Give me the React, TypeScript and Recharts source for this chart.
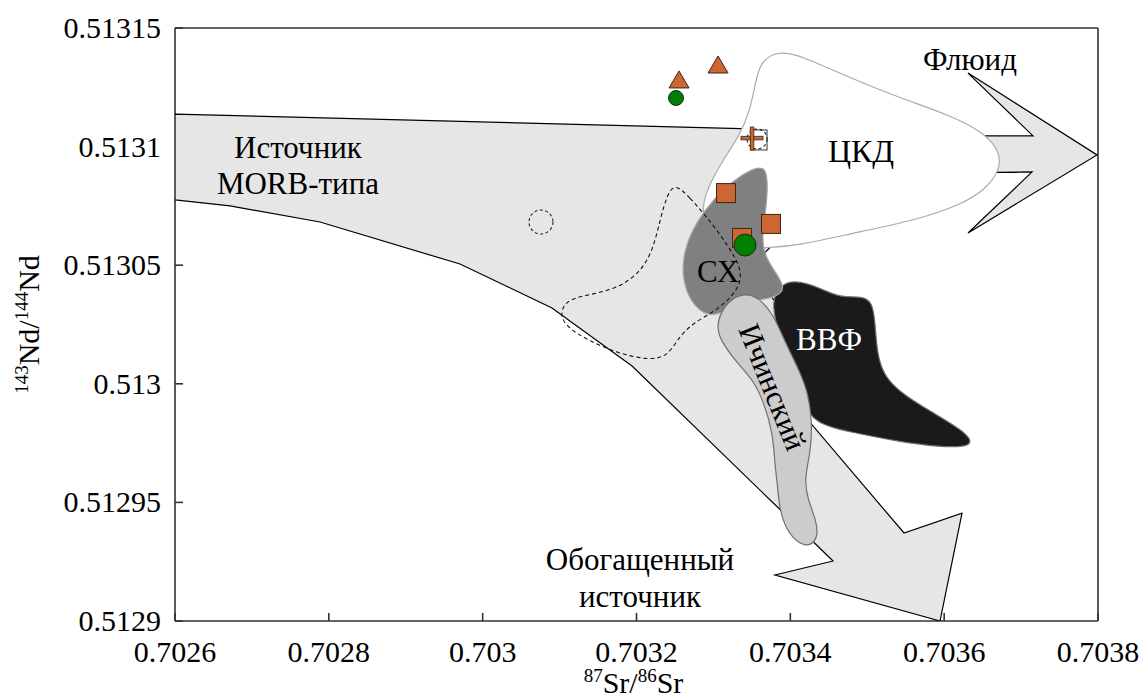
import { ScatterChart, Scatter, XAxis, YAxis, Label } from 'recharts'

const FONT = 'Liberation Serif'

// axes
const xTicks = [0.7026, 0.7028, 0.703, 0.7032, 0.7034, 0.7036, 0.7038]
const yTicks = [0.5129, 0.51295, 0.513, 0.51305, 0.5131, 0.51315]
const topTicks = [0, 1, 2, 3, 4, 5, 6, 7, 8, 9, 10, 11]
const rightTicks = [0, 1, 2, 3, 4]

// fields, [87Sr/86Sr, 143Nd/144Nd]
const morbField = [
  [0.7026, 0.5131137], [0.7033606, 0.5131074], [0.7033996, 0.5130775], [0.7033866, 0.5130615],
  [0.7033541, 0.5130513], [0.7033736, 0.5130374], [0.7033996, 0.5130269], [0.703423, 0.5129847],
  [0.7035478, 0.5129371], [0.7036232, 0.5129455], [0.7035946, 0.5129], [0.7033801, 0.5129194],
  [0.7034555, 0.5129253], [0.7031942, 0.5130075], [0.7030901, 0.513032], [0.7029705, 0.5130505],
  [0.7027885, 0.5130682], [0.7026715, 0.513075], [0.7026, 0.5130775],
]

const fluidArrow = [
  [0.703631, 0.513131], [0.7037987, 0.5130965], [0.703631, 0.5130636], [0.7037142, 0.5130893],
  [0.7036076, 0.5130889], [0.7036076, 0.5131045], [0.7037155, 0.5131045],
]

const ckdField = [
  [0.7033827, 0.5131403], [0.7034126, 0.5131386], [0.7034776, 0.5131289], [0.7035426, 0.5131205],
  [0.7036076, 0.5131133], [0.7036531, 0.5131057], [0.7036726, 0.5130977], [0.7036726, 0.5130901],
  [0.7036531, 0.5130817], [0.7036206, 0.5130754], [0.7035647, 0.5130691], [0.7034776, 0.5130632],
  [0.7034126, 0.5130585], [0.7033736, 0.5130573], [0.7033411, 0.5130573], [0.7033086, 0.5130606],
  [0.7032891, 0.513067], [0.7032852, 0.5130745], [0.703293, 0.513083], [0.7033125, 0.5130944],
  [0.7033346, 0.5131049], [0.7033476, 0.5131154], [0.7033541, 0.513126], [0.7033606, 0.5131357],
]

const vvfField = [
  [0.7033905, 0.5130429], [0.7034126, 0.5130433], [0.7034386, 0.5130404], [0.7034646, 0.5130362],
  [0.7034932, 0.513037], [0.7035062, 0.5130345], [0.7035101, 0.5130269], [0.7035127, 0.5130121],
  [0.7035231, 0.5130024], [0.7035491, 0.5129949], [0.7035881, 0.5129873], [0.7036232, 0.5129805],
  [0.7036375, 0.5129755], [0.7036271, 0.5129734], [0.7035946, 0.5129734], [0.7035426, 0.5129755],
  [0.7034776, 0.5129797], [0.7034321, 0.5129831], [0.7034126, 0.5129932], [0.7033866, 0.5130185],
  [0.7033736, 0.5130353],
]

const shField = [
  [0.7033671, 0.5130914], [0.703371, 0.5130851], [0.7033684, 0.5130733], [0.7033632, 0.5130627],
  [0.7033658, 0.5130543], [0.7033814, 0.5130467], [0.7033944, 0.51304], [0.7033801, 0.5130362],
  [0.7033541, 0.5130353], [0.7033281, 0.5130332], [0.7033021, 0.5130282], [0.7032826, 0.5130303],
  [0.703267, 0.5130366], [0.7032592, 0.5130459], [0.7032618, 0.5130556], [0.7032722, 0.5130648],
  [0.7032891, 0.5130733], [0.7033112, 0.5130817], [0.7033346, 0.5130876], [0.7033541, 0.513091],
]

const ichinskyField = [
  [0.7033437, 0.5130383], [0.7033632, 0.5130353], [0.7033801, 0.5130277], [0.7033931, 0.5130176],
  [0.7034126, 0.513005], [0.703423, 0.5129961], [0.7034282, 0.5129847], [0.7034269, 0.5129721],
  [0.7034178, 0.5129594], [0.703423, 0.512951], [0.7034334, 0.5129426], [0.703436, 0.5129363],
  [0.7034295, 0.5129325], [0.7034191, 0.5129316], [0.7034048, 0.5129342], [0.7033918, 0.5129405],
  [0.7033853, 0.5129489], [0.7033827, 0.5129594], [0.7033801, 0.5129649], [0.7033775, 0.5129793],
  [0.7033645, 0.5129932], [0.7033515, 0.5130016], [0.7033307, 0.5130088], [0.7033086, 0.5130185],
  [0.7033047, 0.5130239], [0.7033086, 0.5130299], [0.7033242, 0.5130362],
]

const dashedField = [
  [0.7032501, 0.5130847], [0.7032696, 0.5130783], [0.7032891, 0.5130712], [0.7033112, 0.5130619],
  [0.7033281, 0.5130535], [0.7033372, 0.5130467], [0.703332, 0.5130395], [0.703306, 0.5130311],
  [0.7032722, 0.5130256], [0.7032527, 0.5130185], [0.7032397, 0.5130113], [0.7032137, 0.51301],
  [0.7031747, 0.513013], [0.7031357, 0.5130185], [0.7031096, 0.5130239], [0.7031005, 0.513029],
  [0.703107, 0.5130345], [0.7031265, 0.513037], [0.7031721, 0.5130395], [0.7032046, 0.5130467],
  [0.7032215, 0.5130564], [0.7032306, 0.5130691], [0.7032397, 0.5130796],
]

const dashedCircle = [[0.7030758, 0.5130682]]

// samples
const triangles = [[0.7032553, 0.5131281], [0.703306, 0.5131344]]
const smallCircles = [[0.7032514, 0.5131205]]
const bigCircles = [[0.7033411, 0.5130585]]
const squares = [[0.7033164, 0.5130804], [0.7033749, 0.5130674], [0.7033372, 0.5130615]]
const openSquares = [[0.7033593, 0.5131028]]
const openDashedCircles = [[0.7033567, 0.5131032]]
const crosses = [[0.7033502, 0.5131036]]

// annotations
const labelMorb = [[0.7027599, 0.5130952]]
const labelEnriched = [[0.7032046, 0.5129215]]
const labelCkd = [[0.7034919, 0.5130935]]
const labelFluid = [[0.7036336, 0.5131323]]
const labelSh = [[0.703306, 0.5130429]]
const labelVvf = [[0.7034503, 0.5130143]]
const labelIchinsky = [[0.7033775, 0.5129987]]

const pts = (arr: number[][]) => arr.map(([x, y]) => ({ x, y }))
const noDot = () => <g />

const ORANGE = '#cc6633'
const GREEN = '#008000'

const field = (
  key: string,
  data: number[][],
  fill: string,
  stroke: string,
  curve: 'linearClosed' | 'basisClosed',
  extra: Record<string, any> = {}
) => (
  <Scatter
    key={key}
    xAxisId='b'
    yAxisId='l'
    data={pts(data)}
    isAnimationActive={false}
    shape={noDot}
    line={{ fill, stroke, strokeWidth: 1.2, ...extra }}
    lineJointType={curve}
    legendType='none'
  />
)

const textShape = (lines: string[], opts: { size?: number; fill?: string; lh?: number; rotate?: number } = {}) =>
  (props: any) => {
    const { cx, cy } = props
    const size = opts.size ?? 31
    const lh = opts.lh ?? 36
    return (
      <text
        x={cx}
        y={cy}
        textAnchor='middle'
        style={{ fontFamily: FONT }}
        fontSize={size}
        fill={opts.fill ?? '#000'}
        dominantBaseline={opts.rotate ? 'central' : undefined}
        transform={opts.rotate ? `rotate(${opts.rotate}, ${cx}, ${cy})` : undefined}
      >
        {lines.map((t, i) => (
          <tspan key={i} x={cx} dy={i === 0 ? 0 : lh}>
            {t}
          </tspan>
        ))}
      </text>
    )
  }

const marker = (key: string, data: number[][], shape: (p: any) => any) => (
  <Scatter
    key={key}
    xAxisId='b'
    yAxisId='l'
    data={pts(data)}
    isAnimationActive={false}
    shape={shape}
    legendType='none'
  />
)

const triangleShape = ({ cx, cy }: any) => (
  <polygon
    points={`${cx},${cy - 9} ${cx + 10},${cy + 8} ${cx - 10},${cy + 8}`}
    fill={ORANGE}
    stroke='#3b2618'
    strokeWidth={1}
  />
)
const squareShape = ({ cx, cy }: any) => (
  <rect x={cx - 9.5} y={cy - 9.5} width={19} height={19} fill={ORANGE} stroke='#3b2618' strokeWidth={1} />
)
const smallCircleShape = ({ cx, cy }: any) => (
  <circle cx={cx} cy={cy} r={7.5} fill={GREEN} stroke='#1a2a1a' strokeWidth={1} />
)
const bigCircleShape = ({ cx, cy }: any) => (
  <circle cx={cx} cy={cy} r={11} fill={GREEN} stroke='#1a2a1a' strokeWidth={1} />
)
const openSquareShape = ({ cx, cy }: any) => (
  <rect x={cx - 8} y={cy - 10} width={16} height={20} fill='none' stroke='#333' strokeWidth={1} />
)
const dashedCircleShape = (r: number) => ({ cx, cy }: any) => (
  <circle cx={cx} cy={cy} r={r} fill='none' stroke='#222' strokeWidth={1.1} strokeDasharray='3 2.5' />
)
const crossShape = ({ cx, cy }: any) => (
  <g fill={ORANGE} stroke='#3b2618' strokeWidth={0.8}>
    <rect x={cx - 11} y={cy - 1.8} width={22} height={3.6} />
    <rect x={cx - 1.8} y={cy - 11} width={3.6} height={23} />
  </g>
)

const yTitle = (props: any) => {
  const vb = props.viewBox
  const cx = vb.x + 39
  const cy = vb.y + vb.height / 2
  return (
    <text
      x={cx}
      y={cy}
      transform={`rotate(-90, ${cx}, ${cy})`}
      textAnchor='middle'
      style={{ fontFamily: FONT }}
      fontSize={30}
      fill='#000'
    >
      <tspan fontSize={19} dy={-11}>143</tspan>
      <tspan dy={11}>Nd/</tspan>
      <tspan fontSize={19} dy={-11}>144</tspan>
      <tspan dy={11}>Nd</tspan>
    </text>
  )
}

const xTitle = (props: any) => {
  const vb = props.viewBox
  const cx = vb.x + vb.width / 2 - 3
  const cy = vb.y + 72
  return (
    <text x={cx} y={cy} textAnchor='middle' style={{ fontFamily: FONT }} fontSize={30} fill='#000'>
      <tspan fontSize={19} dy={-11}>87</tspan>
      <tspan dy={11}>Sr/</tspan>
      <tspan fontSize={19} dy={-11}>86</tspan>
      <tspan dy={11}>Sr</tspan>
    </text>
  )
}

const bottomTick = ({ x, y, payload }: any) => (
  <text x={x} y={y} dy={21} textAnchor='middle' style={{ fontFamily: FONT }} fontSize={30} fill='#000'>
    {payload.value}
  </text>
)

const leftTick = ({ x, y, payload }: any) => (
  <text x={x} y={y} dy={10} textAnchor='end' style={{ fontFamily: FONT }} fontSize={30} fill='#000'>
    {payload.value}
  </text>
)

const axisStroke = { stroke: '#333', strokeWidth: 1.6 }

export default function App() {
  return (
    <div style={{ position: 'absolute', left: 0, top: 0, background: '#fff' }}>
      <ScatterChart width={1143} height={697} margin={{ top: 0, right: 0, bottom: 0, left: 0 }}>
        <XAxis
          xAxisId='b'
          type='number'
          dataKey='x'
          orientation='bottom'
          domain={[0.7026, 0.7038]}
          ticks={xTicks}
          interval={0}
          height={76}
          tickSize={-8}
          tickMargin={28}
          tick={bottomTick}
          axisLine={axisStroke}
          tickLine={axisStroke}
          allowDataOverflow
        >
          <Label content={xTitle} />
        </XAxis>
        <XAxis
          xAxisId='t'
          type='number'
          orientation='top'
          domain={[0, 11]}
          ticks={topTicks}
          interval={0}
          height={28}
          tickSize={-8}
          tick={false}
          axisLine={axisStroke}
          tickLine={axisStroke}
          allowDataOverflow
        />
        <YAxis
          yAxisId='l'
          type='number'
          dataKey='y'
          domain={[0.5129, 0.51315]}
          ticks={yTicks}
          interval={0}
          width={175}
          tickSize={-8}
          tickMargin={22}
          tick={leftTick}
          axisLine={axisStroke}
          tickLine={axisStroke}
          allowDataOverflow
        >
          <Label content={yTitle} />
        </YAxis>
        <YAxis
          yAxisId='r'
          type='number'
          orientation='right'
          domain={[0, 4]}
          ticks={rightTicks}
          interval={0}
          width={45}
          tickSize={-8}
          tick={false}
          axisLine={axisStroke}
          tickLine={axisStroke}
          allowDataOverflow
        />

        {field('morb', morbField, '#e6e6e6', '#000', 'linearClosed')}
        {field('fluid', fluidArrow, '#e6e6e6', '#000', 'linearClosed')}
        {field('ckd', ckdField, '#ffffff', '#aaaaaa', 'basisClosed')}
        {field('vvf', vvfField, '#1a1a1a', '#6e6e6e', 'basisClosed')}
        {field('sh', shField, '#808080', '#a8a8a8', 'basisClosed')}
        {field('ich', ichinskyField, '#cccccc', '#707070', 'basisClosed')}
        {field('dashed', dashedField, 'none', '#111', 'basisClosed', { strokeDasharray: '4 3', strokeWidth: 1.1 })}

        {marker('dcircle', dashedCircle, dashedCircleShape(12))}
        {marker('tri', triangles, triangleShape)}
        {marker('scirc', smallCircles, smallCircleShape)}
        {marker('osq', openSquares, openSquareShape)}
        {marker('odc', openDashedCircles, dashedCircleShape(10))}
        {marker('cross', crosses, crossShape)}
        {marker('sq', squares, squareShape)}
        {marker('bcirc', bigCircles, bigCircleShape)}

        {marker('lMorb', labelMorb, textShape(['Источник', 'MORB-типа']))}
        {marker('lEnr', labelEnriched, textShape(['Обогащенный', 'источник'], { lh: 37 }))}
        {marker('lCkd', labelCkd, textShape(['ЦКД'], { size: 32 }))}
        {marker('lFluid', labelFluid, textShape(['Флюид']))}
        {marker('lSh', labelSh, textShape(['СХ']))}
        {marker('lVvf', labelVvf, textShape(['ВВФ'], { fill: '#fff' }))}
        {marker('lIch', labelIchinsky, textShape(['Ичинский'], { rotate: 68 }))}
      </ScatterChart>
    </div>
  )
}
